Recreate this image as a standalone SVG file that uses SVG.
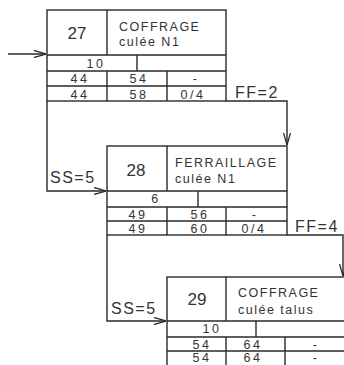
<svg xmlns="http://www.w3.org/2000/svg" width="344" height="365" viewBox="0 0 344 365">
<style>
.ln{stroke:#2a2a2a;stroke-width:1.4;fill:none}
.t{font-family:"Liberation Sans",Arial,sans-serif;fill:#333}
.num{font-size:17px;text-anchor:middle}
.lab{font-size:12.5px;letter-spacing:1.5px}
.cell{font-size:12.5px;letter-spacing:2.5px;text-anchor:middle}
.rel{font-size:16px;letter-spacing:1.5px}
</style>
<defs>
<marker id="arr" viewBox="0 0 12 8" refX="12" refY="4" markerWidth="12" markerHeight="8" markerUnits="userSpaceOnUse" orient="auto">
<path d="M0,0.5 L12,4 L0,7.5" fill="none" stroke="#2a2a2a" stroke-width="1.3"/>
</marker>
</defs>
<rect width="344" height="365" fill="#fff"/>
<g id="connectors" class="ln">
<path d="M8,54 H46" marker-end="url(#arr)"/>
<path d="M47,101 V191 H106" marker-end="url(#arr)"/>
<path d="M226,101 H287 V145" marker-end="url(#arr)"/>
<path d="M107,235 V321 H166" marker-end="url(#arr)"/>
<path d="M287,235 H343 V276" marker-end="url(#arr)"/>
</g>
<g id="labels" class="t">
<text class="rel" x="235" y="98">FF=2</text>
<text class="rel" x="50" y="183">SS=5</text>
<text class="rel" x="295" y="232">FF=4</text>
<text class="rel" x="111" y="314">SS=5</text>
</g>
<g id="task27">
<rect class="ln" x="47" y="10" width="179" height="91"/>
<path class="ln" d="M47,55 H226 M107,10 V55 M47,71 H226 M137,55 V71 M47,86 H226 M107,71 V101 M167,71 V101"/>
<text class="t num" x="77" y="39">27</text>
<text class="t lab" x="119" y="31">COFFRAGE</text>
<text class="t lab" x="119" y="46">culée N1</text>
<text class="t cell" x="96" y="68">10</text>
<text class="t cell" x="80" y="83">44</text>
<text class="t cell" x="139" y="83">54</text>
<text class="t cell" x="196" y="83">-</text>
<text class="t cell" x="80" y="99">44</text>
<text class="t cell" x="139" y="99">58</text>
<text class="t cell" x="193" y="99">0/4</text>
</g>
<g id="task28">
<rect class="ln" x="107" y="146" width="180" height="89"/>
<path class="ln" d="M107,191 H287 M167,146 V191 M107,207 H287 M198,191 V207 M107,221 H287 M167,207 V235 M226,207 V235"/>
<text class="t num" x="136" y="176">28</text>
<text class="t lab" x="175" y="167">FERRAILLAGE</text>
<text class="t lab" x="175" y="183">culée N1</text>
<text class="t cell" x="156" y="203">6</text>
<text class="t cell" x="138" y="219">49</text>
<text class="t cell" x="200" y="219">56</text>
<text class="t cell" x="255" y="219">-</text>
<text class="t cell" x="138" y="233">49</text>
<text class="t cell" x="200" y="233">60</text>
<text class="t cell" x="254" y="233">0/4</text>
</g>
<g id="task29">
<rect class="ln" x="167" y="277" width="180" height="100"/>
<path class="ln" d="M167,321 H347 M226,277 V321 M167,337 H347 M256,321 V337 M167,351 H347 M226,337 V370 M285,337 V370"/>
<text class="t num" x="197" y="305">29</text>
<text class="t lab" x="238" y="297">COFFRAGE</text>
<text class="t lab" x="238" y="314">culée talus</text>
<text class="t cell" x="212" y="333">10</text>
<text class="t cell" x="202" y="349">54</text>
<text class="t cell" x="253" y="349">64</text>
<text class="t cell" x="316" y="349">-</text>
<text class="t cell" x="202" y="362">54</text>
<text class="t cell" x="253" y="362">64</text>
<text class="t cell" x="316" y="362">-</text>
</g>
</svg>
